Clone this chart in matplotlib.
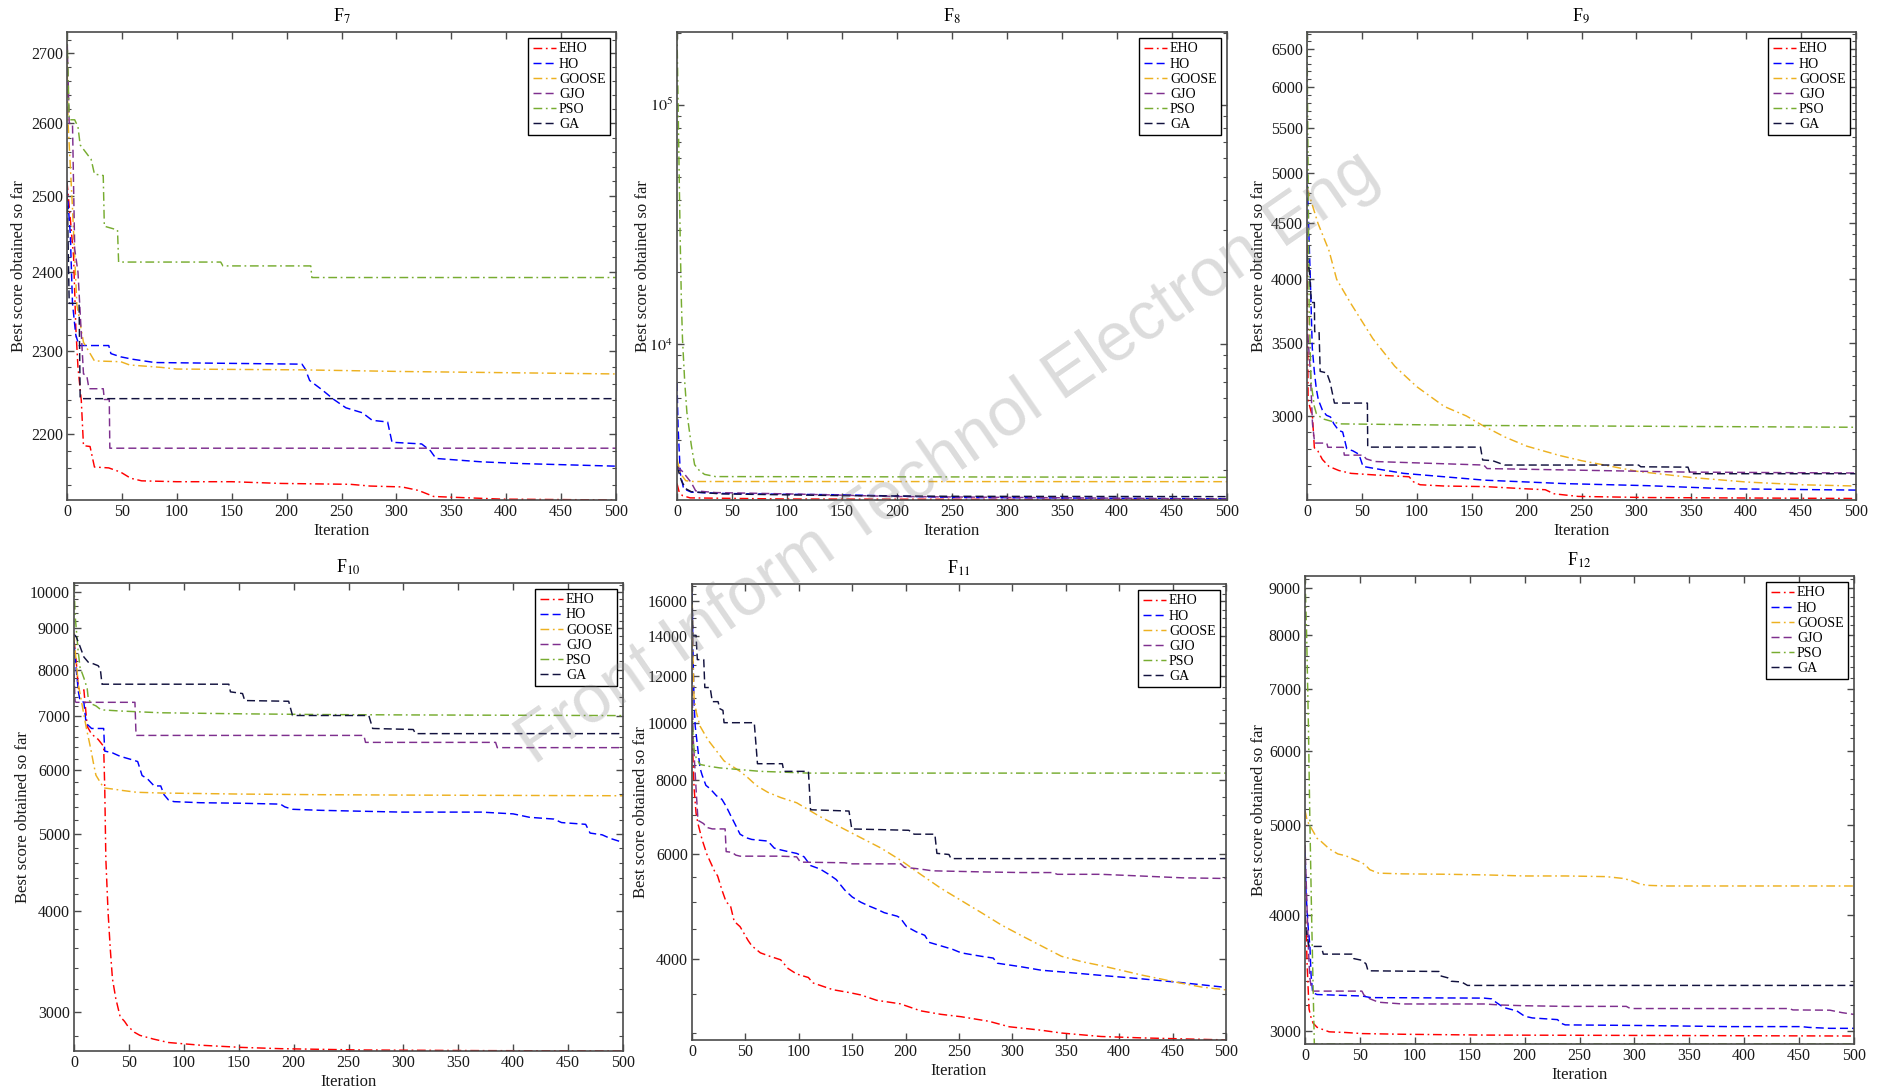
import matplotlib
matplotlib.use('Agg')
import matplotlib.pyplot as plt
import numpy as np
from matplotlib.ticker import FixedLocator, FixedFormatter, NullFormatter, MultipleLocator, LogLocator

plt.rcParams['font.family'] = ['Liberation Serif', 'DejaVu Serif']
plt.rcParams['mathtext.fontset'] = 'stix'

# ---------------- data (iteration, best score) ----------------
ALGOS = ['EHO', 'HO', 'GOOSE', 'GJO', 'PSO', 'GA']

F7_EHO = [(0,2520),(3,2470),(6,2420),(8,2330),(10,2280),(13,2240),(15,2186),(21,2185),(25,2161),(38,2160),(49,2155),(58,2148),(68,2145),(100,2144),(150,2144),(195,2142),(258,2141),(276,2139),(305,2138),(320,2134),(334,2127),(396,2124),(500,2123)]
F7_HO = [(0,2510),(3,2450),(5,2360),(8,2320),(11,2307),(38,2307),(40,2297),(49,2293),(60,2290),(80,2286),(214,2284),(217,2278),(221,2264),(232,2253),(243,2241),(254,2231),(269,2225),(278,2216),(292,2214),(296,2190),(323,2188),(331,2180),(336,2171),(378,2167),(415,2165),(500,2162)]
F7_GOOSE = [(0,2700),(1,2600),(5,2484),(9,2358),(15,2311),(25,2288),(49,2287),(57,2283),(86,2280),(100,2278),(214,2277),(305,2275),(500,2272)]
F7_GJO = [(0,2731),(2,2600),(5,2600),(7,2430),(10,2400),(15,2272),(18,2270),(20,2254),(33,2254),(34,2241),(38.5,2241),(39,2183),(500,2183)]
F7_PSO = [(0,2731),(2,2605),(7,2605),(10,2595),(12,2570),(18,2558),(22,2550),(25,2530),(33,2528),(34,2460),(46,2455),(47,2413),(140,2413),(142,2408),(222,2408),(223,2393),(500,2393)]
F7_GA = [(0,2520),(2,2360),(11,2360),(12,2242),(500,2242)]

F8_EHO = [(0,2630),(2,2420),(5,2340),(12,2290),(100,2265),(500,2250)]
F8_HO = [(0,6900),(1,4500),(3,2900),(6,2500),(13,2420),(40,2390),(100,2370),(150,2360),(250,2300),(500,2270)]
F8_GOOSE = [(0,3330),(3,2900),(8,2700),(15,2680),(500,2676)]
F8_GJO = [(0,3100),(5,2950),(13,2650),(17,2450),(35,2410),(100,2380),(200,2320),(500,2265)]
F8_PSO = [(0,201000),(1,100000),(2,50000),(3,26000),(4,15000),(5,10500),(7,7000),(9,5200),(13,3800),(16,3150),(20,2990),(25,2870),(35,2810),(500,2790)]
F8_GA = [(0,3100),(4,2700),(8,2500),(13,2430),(40,2380),(150,2340),(250,2325),(500,2318)]

F9_EHO = [(0,4300),(1,3100),(5,2994),(6.7,2805),(10,2785),(14,2737),(20,2697),(29,2674),(40,2658),(62,2649),(93,2639),(97,2611),(103,2595),(125,2588),(162,2585),(199,2573),(217,2568),(225,2546),(247,2532),(310,2526),(500,2521)]
F9_HO = [(0,5000),(3,4010),(4.8,3463),(6.7,3292),(8.5,3176),(10.3,3104),(14,3037),(17.7,3004),(21.4,2993),(24.4,2951),(28.8,2910),(32.5,2900),(36.2,2800),(41.8,2787),(47.3,2767),(51,2697),(69.5,2677),(88,2658),(125,2639),(162,2620),(236,2601),(310,2590),(384,2573),(500,2566)]
F9_GOOSE = [(0,4850),(10,4500),(20,4250),(27,4000),(40,3800),(60,3530),(80,3330),(100,3190),(125,3060),(145,3000),(160,2940),(180,2870),(200,2815),(230,2760),(250,2730),(275,2700),(300,2670),(350,2635),(400,2610),(450,2595),(500,2588)]
F9_GJO = [(0,3650),(3,3300),(5,2950),(7,2833),(18,2833),(19,2808),(33,2808),(34,2762),(51,2762),(54,2740),(62,2725),(161,2705),(164,2685),(347,2665),(500,2660)]
F9_PSO = [(0,6733),(1,5000),(2,3730),(3.7,3220),(6.7,3060),(8.5,3015),(14,2982),(25,2961),(29,2950),(160,2940),(500,2929)]
F9_GA = [(0,4210),(2.2,4067),(4,3809),(6.7,3809),(7,3582),(11,3582),(12,3295),(18,3284),(21,3221),(25,3082),(55,3082),(55.3,2809),(158,2809),(160,2734),(169,2730),(180,2705),(302,2705),(304,2695),(347,2693),(349,2656),(500,2656)]

F10_EHO = [(0,8700),(2,8200),(4,7580),(9,7550),(12,6800),(16,6650),(22,6550),(27,6420),(28,5700),(29,4650),(31,4000),(33,3600),(35,3300),(38,3120),(42,2960),(46,2920),(49,2880),(55,2830),(60,2805),(72,2776),(86,2748),(115,2727),(152,2710),(188,2700),(260,2690),(370,2685),(500,2682)]
F10_HO = [(0,8632),(2,8010),(4,7506),(5.5,7321),(9,7284),(11,6860),(16,6758),(27,6758),(28,6334),(35,6302),(42,6240),(53,6178),(58,6147),(62,5906),(67,5848),(73,5732),(79,5732),(82,5590),(86,5507),(91,5480),(115,5463),(152,5455),(188,5441),(192,5398),(199,5361),(225,5345),(298,5318),(371,5318),(400,5291),(415,5239),(437,5213),(444,5161),(466,5135),(470,5008),(481,4983),(488,4934),(500,4875)]
F10_GOOSE = [(0,8900),(1,8460),(4,7660),(7,7280),(11,6790),(15,6400),(18,6090),(20,5910),(24,5790),(27,5700),(38,5675),(42,5663),(57,5629),(79,5617),(152,5600),(225,5590),(298,5584),(500,5573)]
F10_GJO = [(0,7900),(1,7300),(2,7284),(55.5,7284),(56.5,6625),(264,6625),(265.5,6494),(384,6494),(385.5,6397),(500,6397)]
F10_PSO = [(0,10253),(1,9350),(3.7,8460),(5.5,8050),(9,7810),(12,7580),(13,7360),(16,7250),(20,7210),(24,7140),(27,7126),(42,7105),(79,7069),(152,7048),(225,7033),(298,7026),(500,7012)]
F10_GA = [(0,8851),(2,8789),(5.5,8547),(9,8294),(13,8171),(16,8150),(22,8090),(24,8009),(25.5,7672),(141,7672),(142.5,7506),(153.5,7469),(155.5,7321),(195.5,7306),(199,7014),(268.5,7014),(272,6758),(309,6738),(311,6659),(500,6659)]

F11_EHO = [(0,9500),(0.75,8860),(2,7740),(3.8,7040),(5.6,6760),(9.4,6360),(14,6000),(21,5630),(24,5520),(28,5230),(32,4990),(36,4920),(39.5,4630),(45,4536),(52.6,4297),(56,4211),(64,4098),(73,4043),(83,3989),(90,3856),(98,3775),(109,3724),(113,3648),(132,3552),(147,3514),(158,3481),(173,3409),(195,3363),(214,3273),(233,3229),(252,3199),(278,3143),(297,3077),(327,3036),(346,3003),(383,2963),(421,2947),(500,2924)]
F11_HO = [(0,16800),(1,13000),(1.9,10850),(3,9870),(4.5,9350),(7.5,8390),(9.4,8170),(13,7845),(17,7740),(23,7530),(28,7430),(32,7230),(36,6990),(41,6710),(45,6490),(51,6400),(56,6360),(71,6320),(77,6150),(83,6108),(90,6067),(98,6025),(105,5945),(111,5748),(120,5670),(128,5556),(135,5445),(143,5228),(150,5089),(158,4987),(165,4920),(173,4854),(180,4788),(192,4724),(195,4692),(201,4536),(210,4445),(218,4385),(222,4268),(233,4211),(244,4154),(252,4098),(271,4043),(282,4016),(286,3936),(308,3883),(327,3831),(346,3806),(365,3780),(383,3755),(421,3705),(459,3650),(500,3584)]
F11_GOOSE = [(0,17100),(0.75,13300),(1.9,11000),(4,10420),(7.5,9870),(15,9350),(22.6,8980),(30,8624),(45,8281),(53,8060),(60,7845),(71,7635),(83,7482),(98,7332),(109,7136),(120,6946),(139,6670),(158,6404),(177,6150),(195.5,5865),(214,5556),(233,5264),(252,5020),(271,4788),(289.5,4567),(308,4385),(327,4211),(346,4043),(365,3960),(383,3900),(402,3830),(421,3760),(440,3700),(459,3640),(477,3590),(500,3550)]
F11_GJO = [(0,12000),(1,9500),(3.8,7740),(5.6,6850),(11,6760),(13,6670),(19,6625),(31,6625),(32,6067),(37.6,6050),(41,5985),(45,5961),(83,5961),(98,5945),(101.5,5825),(143,5810),(150,5786),(195.5,5786),(199,5709),(214,5670),(225,5632),(270,5609),(308,5594),(338,5594),(342,5556),(383,5556),(421,5519),(459,5481),(500,5467)]
F11_PSO = [(0,10560),(1,9500),(2,8980),(3.8,8740),(7.5,8507),(15,8450),(26,8393),(45,8337),(64,8281),(83,8259),(109,8225),(500,8225)]
F11_GA = [(0,17100),(0.75,14030),(3.8,14030),(5,12770),(11,12770),(12,11460),(17,11460),(19,10850),(24.4,10850),(26,10560),(29,10490),(30,10000),(58.3,10000),(61.3,8530),(84.6,8530),(86,8281),(109,8281),(111,7136),(147,7100),(149.6,6624),(203,6590),(208,6491),(227.4,6491),(229.3,6026),(240.6,6000),(242.5,5905),(500,5905)]

F12_EHO = [(0,4000),(1.1,3865),(1.9,3544),(3,3308),(3.7,3168),(5.6,3100),(7.4,3060),(11,3029),(15,3016),(22,2995),(37,2990),(52,2982),(89,2977),(163,2971),(274,2969),(500,2964)]
F12_HO = [(0,4700),(1,4210),(3,3865),(4.5,3700),(5.5,3450),(7,3300),(11,3285),(52,3273),(60,3260),(163,3256),(170,3250),(174,3222),(181,3181),(193,3154),(200,3113),(207,3100),(230,3087),(233,3060),(237,3047),(311,3042),(385,3034),(452,3034),(459,3028),(478,3021),(500,3021)]
F12_GOOSE = [(0,5185),(2,5052),(5.6,4965),(11,4838),(15,4797),(22,4714),(30,4654),(37,4634),(44,4594),(52,4555),(56,4515),(59,4476),(67,4438),(89,4430),(126,4426),(163,4419),(200,4407),(237,4407),(274,4400),(289,4381),(296,4362),(304,4325),(311,4306),(330,4299),(500,4299)]
F12_GJO = [(0,4760),(1.5,4200),(3,3700),(4.4,3424),(5.6,3351),(7.4,3313),(51.8,3313),(53.7,3281),(59,3251),(67,3223),(89,3209),(163,3209),(178,3201),(200,3195),(237,3190),(292.6,3190),(296.3,3173),(440.7,3173),(444.4,3162),(478,3160),(489,3141),(500,3127)]
F12_PSO = [(0,9268),(1.5,8000),(3,6500),(4.5,5000),(6,4000),(7.5,3300),(8.5,2906),(500,2906)]
F12_GA = [(0,4000),(1,3850),(3.7,3701),(14.8,3701),(16.7,3631),(42.6,3631),(44.4,3591),(51.8,3576),(55.6,3544),(57.4,3484),(122,3478),(124,3439),(130,3424),(133,3395),(142.6,3389),(148,3360),(500,3360)]

PANELS = ['F7', 'F8', 'F9', 'F10', 'F11', 'F12']
PANEL_DATA = {
    'F7': [F7_EHO, F7_HO, F7_GOOSE, F7_GJO, F7_PSO, F7_GA],
    'F8': [F8_EHO, F8_HO, F8_GOOSE, F8_GJO, F8_PSO, F8_GA],
    'F9': [F9_EHO, F9_HO, F9_GOOSE, F9_GJO, F9_PSO, F9_GA],
    'F10': [F10_EHO, F10_HO, F10_GOOSE, F10_GJO, F10_PSO, F10_GA],
    'F11': [F11_EHO, F11_HO, F11_GOOSE, F11_GJO, F11_PSO, F11_GA],
    'F12': [F12_EHO, F12_HO, F12_GOOSE, F12_GJO, F12_PSO, F12_GA],
}
YLIMS = {'F7': (2123, 2731), 'F8': (2244, 2.01e5), 'F9': (2513, 6733),
         'F10': (2682, 10253), 'F11': (2923, 17120), 'F12': (2906, 9268)}
YTICKS = {'F7': [2200, 2300, 2400, 2500, 2600, 2700],
          'F8': [1e4, 1e5],
          'F9': [3000, 3500, 4000, 4500, 5000, 5500, 6000, 6500],
          'F10': [3000, 4000, 5000, 6000, 7000, 8000, 9000, 10000],
          'F11': [4000, 6000, 8000, 10000, 12000, 14000, 16000],
          'F12': [3000, 4000, 5000, 6000, 7000, 8000, 9000]}
YTICKLABELS = {k: [str(int(v)) for v in YTICKS[k]] for k in YTICKS}
YTICKLABELS['F8'] = [r'$10^{4}$', r'$10^{5}$']
MINOR_STEP = {'F7': 20, 'F9': 100, 'F10': 200, 'F11': 500, 'F12': 200}

# ---------------- styling ----------------
COLORS = {'EHO': '#FF0000', 'HO': '#0000FF', 'GOOSE': '#EDB120',
          'GJO': '#7E2F8E', 'PSO': '#77AC30', 'GA': '#12123E'}
DASHDOT = (0, (6, 2.5, 1.2, 2.5))
DASHED = (0, (5.5, 2.8))
LSTYLE = {'EHO': DASHDOT, 'HO': DASHED, 'GOOSE': DASHDOT, 'GJO': DASHED,
          'PSO': DASHDOT, 'GA': DASHED}

W, H = 1877, 1092
BOXES = {'F7': (67, 32, 616, 500), 'F8': (677, 32, 1227, 500), 'F9': (1307, 32, 1856, 500),
         'F10': (74, 583, 623, 1051), 'F11': (692, 584, 1226, 1040), 'F12': (1305, 576, 1854, 1044)}
YLABEL_X = {'F7': 19, 'F8': 643, 'F9': 1259, 'F10': 23, 'F11': 641, 'F12': 1259}
SPINE = '#4a4a4a'

fig = plt.figure(figsize=(W / 100, H / 100), dpi=100)

for name in PANELS:
    l, t, r, b = BOXES[name]
    wpx, hpx = r - l, b - t
    ax = fig.add_axes([l / W, 1 - b / H, wpx / W, hpx / H])
    for algo, series in zip(ALGOS, PANEL_DATA[name]):
        xs = [p[0] for p in series]
        ys = [p[1] for p in series]
        ax.plot(xs, ys, color=COLORS[algo], linestyle=LSTYLE[algo], lw=1.05, label=algo)
    ax.set_yscale('log')
    ax.set_xlim(0, 500)
    ax.set_ylim(*YLIMS[name])
    ax.xaxis.set_major_locator(MultipleLocator(50))
    ax.yaxis.set_major_locator(FixedLocator(YTICKS[name]))
    ax.yaxis.set_major_formatter(FixedFormatter(YTICKLABELS[name]))
    if name == 'F8':
        ax.yaxis.set_minor_locator(LogLocator(base=10, subs=np.arange(2, 10)))
    else:
        step = MINOR_STEP[name]
        lo, hi = YLIMS[name]
        ax.yaxis.set_minor_locator(FixedLocator(np.arange(np.ceil(lo / step) * step, hi, step)))
    ax.yaxis.set_minor_formatter(NullFormatter())
    ax.tick_params(which='both', direction='in', top=True, right=True, color=SPINE,
                   labelsize=11.5, labelcolor='#1a1a1a')
    ax.tick_params(which='major', length=5, width=1.0, pad=3)
    ax.tick_params(which='minor', length=3, width=0.8)
    for sp in ax.spines.values():
        sp.set_color(SPINE)
        sp.set_linewidth(1.2)

    ax.set_xlabel('Iteration', fontsize=12, va='center', color='#1a1a1a')
    ax.xaxis.set_label_coords(0.5, -31 / hpx)
    ax.set_ylabel('Best score obtained so far', fontsize=12, va='center', color='#1a1a1a')
    ax.yaxis.set_label_coords((YLABEL_X[name] - l) / wpx, 0.5)
    num = name[1:]
    ax.text(0.5, 1 + 16 / hpx, 'F$_{' + num + '}$', transform=ax.transAxes,
            ha='center', va='center', fontsize=13)

    leg = ax.legend(loc='upper right', fontsize=10, frameon=True, fancybox=False,
                    edgecolor='black', framealpha=1, handlelength=1.7, handletextpad=0.2,
                    labelspacing=0.15, borderpad=0.3, borderaxespad=0.45)
    leg.get_frame().set_linewidth(1.0)

fig.text(948 / W, 1 - 458 / H, 'Front Inform Technol Electron Eng', rotation=34.6,
         rotation_mode='anchor', ha='center', va='center', fontsize=49,
         family=['Liberation Sans', 'DejaVu Sans'], color='#808080', alpha=0.28, zorder=20)

fig.savefig('out.png', dpi=100)
